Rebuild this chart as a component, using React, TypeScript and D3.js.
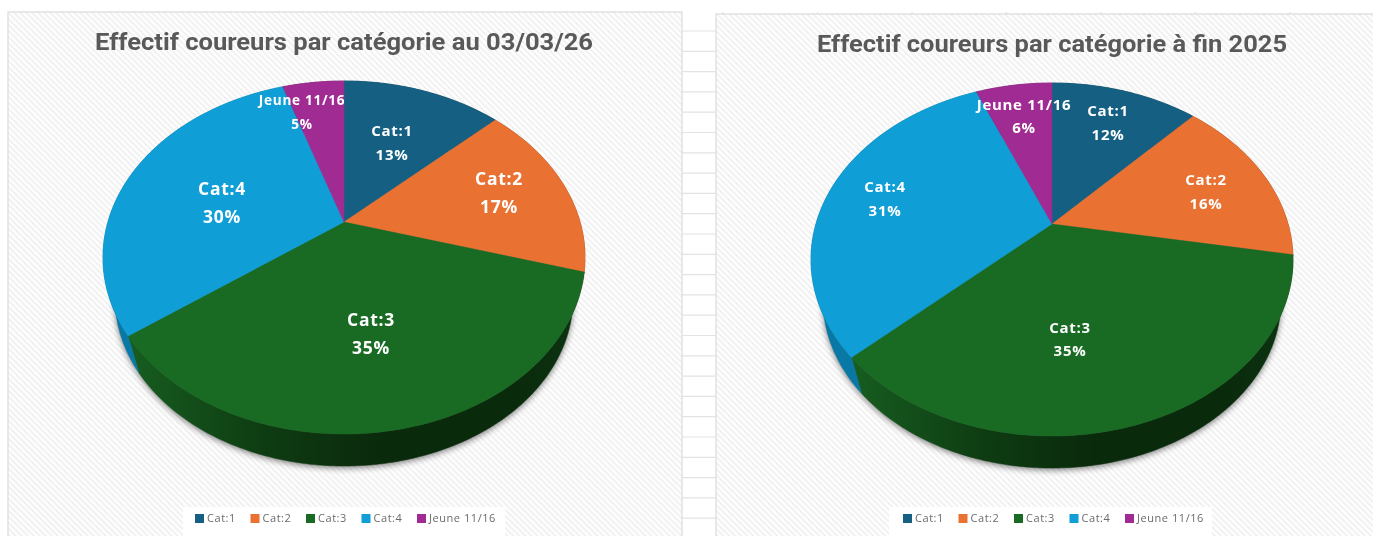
import React from 'react'
import * as d3 from 'd3'

const categories = ['Cat:1', 'Cat:2', 'Cat:3', 'Cat:4', 'Jeune 11/16']
const colors = ['#156082', '#E97132', '#196B24', '#0F9ED5', '#A02B93']
const wallColors = ['#0c3a4e', '#8c441e', 'url(#wallGreen)', '#0a78a4', '#601a58']

const march2026 = [13.0, 16.5, 35.4, 30.1, 5.0]
const end2025 = [12.0, 15.8, 35.3, 30.7, 6.2]

const gridRows = d3.range(31, 536, 20.3)
const gridColumns = d3.range(723, 1373, 94.5)

// layout of the two Excel charts, as placed on the sheet
const charts = [
  {
    title: 'Effectif coureurs par catégorie au 03/03/26',
    values: march2026,
    panel: { x: 8, y: 12, w: 674, h: 530 },
    cx: 344,
    cy: 222,
    titleX: 95,
    titleW: 498,
    titleY: 50,
    legendX: 195,
    legendBox: { x: 183, y: 507, w: 322, h: 29 },
    labelSizes: [15, 17.5, 17.5, 17.5, 13.6],
    labelAt: [[392, 131], [499, 179], [371, 320], [222, 189], [302, 100]],
    labelGap: [24, 28, 28, 28, 24],
  },
  {
    title: 'Effectif coureurs par catégorie à fin 2025',
    values: end2025,
    panel: { x: 716, y: 14, w: 670, h: 530 },
    cx: 1052,
    cy: 224,
    titleX: 817,
    titleW: 470,
    titleY: 52,
    legendX: 903,
    legendBox: { x: 889, y: 507, w: 323, h: 29 },
    labelSizes: [15, 15, 15, 15, 15],
    labelAt: [[1108, 111], [1206, 180], [1070, 328], [885, 187], [1024, 105]],
    labelGap: [24, 24, 23, 24, 23],
  },
]

// perspective tilt of the pie: the disc is a circle seen from the front
const tilt = 0.2011
const scaleX = 236.1
const scaleY = 169.4
// the base of the pie sits further away, so it comes out a bit smaller
const baseScale = 0.95
const baseDrop = 42.6

const pie = d3.pie<number>().sort(null).value(d => d)
const line = d3.line()
const color = d3.scaleOrdinal<number, string>().domain(d3.range(5)).range(colors)
const wallColor = d3.scaleOrdinal<number, string>().domain(d3.range(5)).range(wallColors)

function project (angle: number, cx: number, cy: number, base = false): [number, number] {
  const x = Math.sin(angle)
  const y = -Math.cos(angle)
  const w = 1 - tilt * y
  const s = base ? baseScale : 1
  return [cx + (s * scaleX * x) / w, cy + (s * scaleY * y) / w + (base ? baseDrop : 0)]
}

function rim (a0: number, a1: number, cx: number, cy: number, base = false) {
  const steps = Math.max(2, Math.ceil((a1 - a0) * 60))
  return d3.range(steps + 1).map(i => project(a0 + ((a1 - a0) * i) / steps, cx, cy, base))
}

function Pie ({ chart }: { chart: (typeof charts)[number] }) {
  const { cx, cy, values } = chart
  const arcs = pie(values)
  const full = rim(0, Math.PI * 2, cx, cy, true)
  return (
    <g>
      <path d={line(full) + 'Z'} fill='#000' opacity={0.5} transform='translate(0,2)' filter='url(#soft)' />
      {arcs.map((a, i) => (
        <path
          key={i}
          d={line([...rim(a.startAngle, a.endAngle, cx, cy), ...rim(a.startAngle, a.endAngle, cx, cy, true).reverse()]) + 'Z'}
          fill={wallColor(i)}
          stroke={wallColor(i)}
          strokeWidth={0.5}
        />
      ))}
      {arcs.map((a, i) => (
        <path
          key={i}
          d={line([[cx, cy], ...rim(a.startAngle, a.endAngle, cx, cy)]) + 'Z'}
          fill={color(i)}
          stroke={color(i)}
          strokeWidth={0.4}
        />
      ))}
      {arcs.map((a, i) => {
        const [x, y] = chart.labelAt[i]
        return (
          <text key={i} x={x} textAnchor='middle' fill='#fff' fontFamily='"Open Sans", sans-serif' fontWeight={700} fontSize={chart.labelSizes[i]} letterSpacing={0.7}>
            <tspan x={x} y={y + chart.labelSizes[i] * 0.35}>{categories[i]}</tspan>
            <tspan x={x} y={y + chart.labelGap[i] + chart.labelSizes[i] * 0.35}>{Math.round(a.data)}%</tspan>
          </text>
        )
      })}
    </g>
  )
}

function Legend ({ chart }: { chart: (typeof charts)[number] }) {
  const x = d3.scaleLinear().domain([0, 1]).range([chart.legendX, chart.legendX + 55.5])
  const { legendBox: box } = chart
  return (
    <g>
      <rect x={box.x} y={box.y} width={box.w} height={box.h} fill='#fff' />
      {categories.map((c, i) => (
        <g key={c}>
          <rect x={x(i)} y={514} width={9} height={9} fill={color(i)} />
          <text x={x(i) + 12} y={522} fill='#6a6a6a' fontFamily='"Open Sans", sans-serif' fontSize={11} letterSpacing={0.55}>{c}</text>
        </g>
      ))}
    </g>
  )
}

export default function App () {
  return (
    <svg width={1373} height={536} style={{ position: 'absolute', left: 0, top: 0, display: 'block', filter: 'blur(0.45px)' }}>
      <defs>
        <pattern id='stripes' width={4.24} height={4.24} patternUnits='userSpaceOnUse' patternTransform='rotate(-45)'>
          <rect width={4.24} height={4.24} fill='#fff' />
          <rect width={2.12} height={4.24} fill='#f1f1f1' />
        </pattern>
        <filter id='soft' x='-10%' y='-10%' width='120%' height='120%'>
          <feGaussianBlur stdDeviation={3} />
        </filter>
        <linearGradient id='wallGreen' x1='0' x2='1' y1='0' y2='0'>
          <stop offset='0%' stopColor='#175d20' />
          <stop offset='30%' stopColor='#0e3c12' />
          <stop offset='55%' stopColor='#0a2a0c' />
          <stop offset='85%' stopColor='#0a2a0c' />
          <stop offset='100%' stopColor='#0c3511' />
        </linearGradient>
      </defs>
      <rect width={1373} height={536} fill='#fff' />
      {gridRows.map(y => (
        <line key={y} x1={682} x2={716} y1={y} y2={y} stroke='#e3e3e3' strokeWidth={1.2} />
      ))}
      {gridColumns.map(x => (
        <line key={x} x1={x} x2={x} y1={12} y2={14} stroke='#dcdcdc' />
      ))}
      {charts.map(chart => (
        <g key={chart.title}>
          <rect
            x={chart.panel.x}
            y={chart.panel.y}
            width={chart.panel.w}
            height={chart.panel.h}
            fill='url(#stripes)'
            stroke='#dedede'
            strokeWidth={1.3}
          />
          <text
            x={chart.titleX}
            y={chart.titleY}
            textLength={chart.titleW}
            lengthAdjust='spacingAndGlyphs'
            fill='#595959'
            fontFamily='Roboto, sans-serif'
            fontWeight={700}
            fontSize={24.5}
          >
            {chart.title}
          </text>
          <Pie chart={chart} />
          <Legend chart={chart} />
        </g>
      ))}
    </svg>
  )
}
